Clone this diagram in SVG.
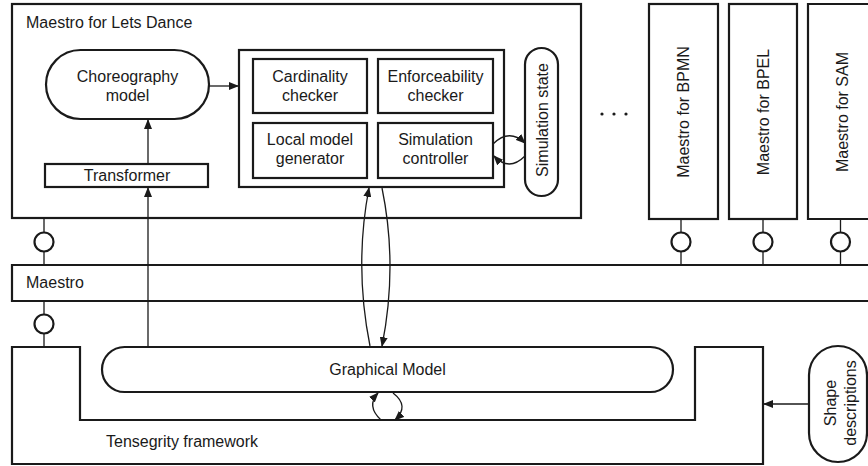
<svg xmlns="http://www.w3.org/2000/svg" width="868" height="466" viewBox="0 0 868 466">
<defs>
<marker id="ah" markerUnits="userSpaceOnUse" markerWidth="10" markerHeight="8" refX="9" refY="4" orient="auto">
<path d="M0,0 L10,4 L0,8 Z" fill="#1a1a1a"/>
</marker>
<style>
.box{fill:#fff;stroke:#1a1a1a;stroke-width:2.2}
.open{fill:none;stroke:#1a1a1a;stroke-width:2.2}
.ln{fill:none;stroke:#1a1a1a;stroke-width:1.3}
.arr{fill:none;stroke:#1a1a1a;stroke-width:1.3;marker-end:url(#ah)}
.t{font-family:"Liberation Sans",Arial,sans-serif;font-size:16px;fill:#1a1a1a}
.c{text-anchor:middle}
</style>
</defs>
<rect width="868" height="466" fill="#fff"/>

<g id="lollipops">
<path class="ln" d="M44,218 V232.5 M44,251.5 V265 M44,301 V314.5 M44,333.5 V347 M681,219 V232.5 M681,251.5 V265 M763,219 V232.5 M763,251.5 V265 M840.5,219 V232.5 M840.5,251.5 V265"/>
<circle class="box" cx="44" cy="242" r="9.5" stroke-width="1.8"/>
<circle class="box" cx="44" cy="324" r="9.5" stroke-width="1.8"/>
<circle class="box" cx="681" cy="242" r="9.5" stroke-width="1.8"/>
<circle class="box" cx="763" cy="242" r="9.5" stroke-width="1.8"/>
<circle class="box" cx="840.5" cy="242" r="9.5" stroke-width="1.8"/>
</g>

<g id="maestro-lets-dance">
<rect class="box" x="12" y="4" width="569" height="214"/>
<text class="t" x="26" y="28">Maestro for Lets Dance</text>
</g>

<g id="choreography-model">
<rect class="box" x="46" y="50" width="163" height="69" rx="34.5"/>
<text class="t c" x="127.5" y="82">Choreography</text>
<text class="t c" x="127.5" y="101">model</text>
</g>

<g id="transformer">
<rect class="box" x="45" y="164" width="163" height="23"/>
<text class="t c" x="127" y="180.5">Transformer</text>
</g>

<g id="checker-group">
<rect class="box" x="239" y="50" width="265" height="137"/>
</g>
<g id="cardinality-checker">
<rect class="box" x="253" y="59" width="114" height="54"/>
<text class="t c" x="310" y="82">Cardinality</text>
<text class="t c" x="310" y="101">checker</text>
</g>
<g id="enforceability-checker">
<rect class="box" x="378" y="59" width="115" height="54"/>
<text class="t c" x="435.5" y="82">Enforceability</text>
<text class="t c" x="435.5" y="101">checker</text>
</g>
<g id="local-model-generator">
<rect class="box" x="253" y="123" width="114" height="55"/>
<text class="t c" x="310" y="145">Local model</text>
<text class="t c" x="310" y="164">generator</text>
</g>
<g id="simulation-controller">
<rect class="box" x="378" y="123" width="115" height="55"/>
<text class="t c" x="435.5" y="145">Simulation</text>
<text class="t c" x="435.5" y="164">controller</text>
</g>

<g id="simulation-state">
<rect class="box" x="525" y="48" width="33" height="148" rx="16.5"/>
<text class="t c" transform="translate(547.5,120) rotate(-90)">Simulation state</text>
</g>

<g id="ellipsis">
<circle cx="602" cy="114" r="1.6" fill="#1a1a1a"/>
<circle cx="614" cy="114" r="1.6" fill="#1a1a1a"/>
<circle cx="626" cy="114" r="1.6" fill="#1a1a1a"/>
</g>

<g id="maestro-bpmn">
<rect class="box" x="649" y="4" width="69" height="215"/>
<text class="t c" transform="translate(688.5,112) rotate(-90)">Maestro for BPMN</text>
</g>
<g id="maestro-bpel">
<rect class="box" x="729" y="4" width="68" height="215"/>
<text class="t c" transform="translate(768.5,112) rotate(-90)">Maestro for BPEL</text>
</g>
<g id="maestro-sam">
<path class="box" d="M872,4 H808 V219 H872"/>
<text class="t c" transform="translate(848,112) rotate(-90)">Maestro for SAM</text>
</g>

<g id="maestro">
<path class="box" d="M872,265 H12 V301 H872"/>
<text class="t" x="26" y="288">Maestro</text>
</g>

<g id="tensegrity-framework">
<path class="box" d="M12,347 H80 V420 H695 V347 H763 V464 H12 Z"/>
<text class="t" x="106" y="447">Tensegrity framework</text>
</g>

<g id="graphical-model">
<rect class="box" x="102" y="347" width="571" height="45" rx="22.5"/>
<text class="t c" x="387.5" y="375">Graphical Model</text>
</g>

<g id="shape-descriptions">
<rect class="box" x="809" y="346" width="58" height="116" rx="29"/>
<text class="t c" transform="translate(835.5,403) rotate(-90)">Shape</text>
<text class="t c" transform="translate(856,403) rotate(-90)">descriptions</text>
</g>

<g id="connectors">
<path class="arr" d="M209,86 H238"/>
<path class="arr" d="M148,164 V120"/>
<path class="arr" d="M148,347 V188"/>
<path class="arr" d="M370,346 Q354,266 369,188"/>
<path class="arr" d="M382,188 Q398,266 382,346"/>
<path class="arr" d="M493,144 Q509,128 525,143"/>
<path class="arr" d="M525,156 Q509,172 494,156"/>
<path class="arr" d="M381,420 Q366,406 378,393"/>
<path class="arr" d="M393,393 Q410,406 395,420"/>
<path class="arr" d="M809,404 H764"/>
</g>
</svg>
